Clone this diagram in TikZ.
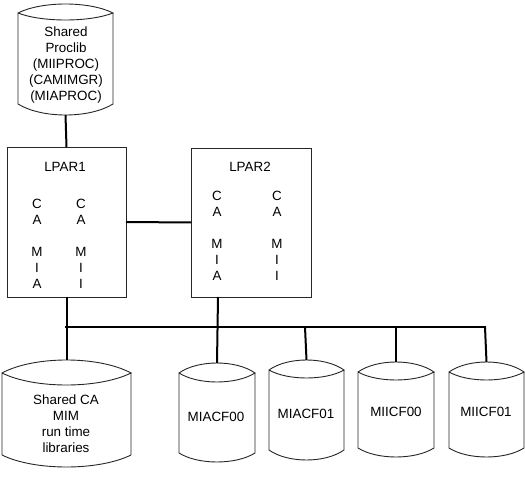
\documentclass[tikz,border=0pt]{standalone}
\usepackage{fontspec}
\setmainfont{Liberation Sans}
\usetikzlibrary{calc}
\tikzset{
  shp/.style={draw=black!85, line width=0.9pt},
  wire/.style={draw=black, line width=2pt},
  frame/.style={draw=none, inner sep=0pt, outer sep=0pt},
  lbl/.style={align=center, inner sep=0pt, font=\fontsize{13.4}{16}\selectfont},
  box/.style={shp, fill=white, inner sep=0pt, outer sep=0pt}
}
% name, up bulge, down bulge (lens), bottom bulge  (control offsets = 4/3 of bulge)
\newcommand\cylframe[4]{%
  \draw[shp] (#1.north west)
    .. controls ($(#1.north west)!.25!(#1.north east)+(0,-#2*4/3)$) and ($(#1.north west)!.75!(#1.north east)+(0,-#2*4/3)$) .. (#1.north east)
    .. controls ($(#1.north west)!.75!(#1.north east)+(0,#3*4/3)$) and ($(#1.north west)!.25!(#1.north east)+(0,#3*4/3)$) .. (#1.north west)
    -- (#1.south west)
    .. controls ($(#1.south west)!.25!(#1.south east)+(0,#4*4/3)$) and ($(#1.south west)!.75!(#1.south east)+(0,#4*4/3)$) .. (#1.south east)
    -- (#1.north east);}
\begin{document}
\begin{tikzpicture}[x=1pt,y=-1pt]
\useasboundingbox (0,0) rectangle (525,478);
% cylinder bodies (sides top to sides bottom)
\node[frame, minimum width=95pt, minimum height=91pt] (proclib) at (65.5,58.5) {};
\node[frame, minimum width=129pt, minimum height=82pt] (sharedca) at (66.5,414) {};
\node[frame, minimum width=76pt, minimum height=80pt] (miacf00) at (217,413) {};
\node[frame, minimum width=75pt, minimum height=80pt] (miacf01) at (306.5,410) {};
\node[frame, minimum width=76pt, minimum height=76pt] (miicf00) at (396,410) {};
\node[frame, minimum width=75pt, minimum height=76pt] (miicf01) at (486.5,410) {};
\cylframe{proclib}{9}{7}{11}
\cylframe{sharedca}{13}{12}{12}
\cylframe{miacf00}{10}{9}{9}
\cylframe{miacf01}{10}{8}{10}
\cylframe{miicf00}{10}{8}{9}
\cylframe{miicf01}{10}{8}{9}
% cylinder tops
\coordinate (proclibbot) at ($(proclib.south)+(0,11)$);
\coordinate (sharedcatop) at ($(sharedca.north)+(0,-13)$);
\coordinate (miacf00top) at ($(miacf00.north)+(0,-10)$);
\coordinate (miacf01top) at ($(miacf01.north)+(0,-10)$);
\coordinate (miicf00top) at ($(miicf00.north)+(0,-10)$);
\coordinate (miicf01top) at ($(miicf01.north)+(0,-10)$);
% texts
\node[lbl] (tproclib) at (66,65) {Shared\\Proclib\\(MIIPROC)\\(CAMIMGR)\\(MIAPROC)};
\node[lbl] (tsharedca) at (66,424) {Shared CA\\MIM\\run time\\libraries};
\node[lbl] (tmiacf00) at (216,417) {MIACF00};
\node[lbl] (tmiacf01) at (306,414) {MIACF01};
\node[lbl] (tmiicf00) at (396,412) {MIICF00};
\node[lbl] (tmiicf01) at (486,412) {MIICF01};
% LPAR boxes
\node[box, minimum width=119pt, minimum height=150pt] (lpar1) at (66.5,222) {};
\node[box, minimum width=120pt, minimum height=149pt] (lpar2) at (251,222.5) {};
\node[lbl] (l1) at (65,167) {LPAR1};
\node[lbl] (l2) at (250,167) {LPAR2};
\node[lbl] (l1a) at (37,244) {C\\A\\\mbox{}\\M\\I\\A};
\node[lbl] (l1b) at (81,244) {C\\A\\\mbox{}\\M\\I\\I};
\node[lbl] (l2a) at (217,236) {C\\A\\\mbox{}\\M\\I\\A};
\node[lbl] (l2b) at (277,236) {C\\A\\\mbox{}\\M\\I\\I};
% connectors
\coordinate (busl) at (66,327);
\coordinate (bus3) at (305,327);
\coordinate (bus4) at (396,327);
\coordinate (busr) at (485,327);
\coordinate (l2out) at ($(lpar2.south west)+(27,0)$);
\draw[wire] (proclibbot) -- (lpar1.north);
\draw[wire] (lpar1.east) -- (lpar2.west);
\draw[wire] (lpar1.south) -- (sharedcatop);
\draw[wire] (l2out) -- (miacf00top);
\draw[wire, line cap=rect] (busl) -- (busr);
\draw[wire] (bus3) -- (miacf01top);
\draw[wire] (bus4) -- (miicf00top);
\draw[wire] (busr) -- (miicf01top);
\end{tikzpicture}
\end{document}
